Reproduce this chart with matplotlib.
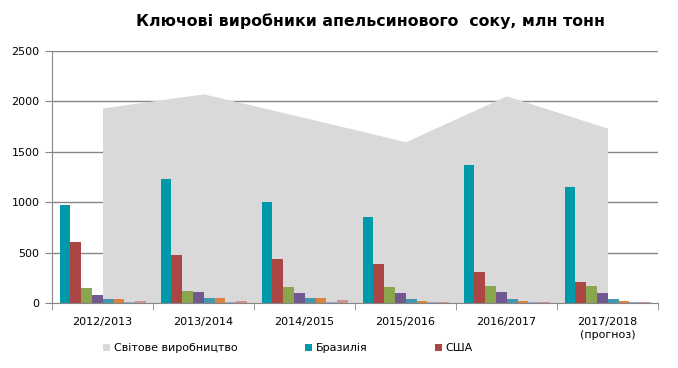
import numpy as np
import matplotlib
matplotlib.use("Agg")
import matplotlib.pyplot as plt
from matplotlib.patches import Patch

# дані
sezony = ["2012/2013", "2013/2014", "2014/2015", "2015/2016", "2016/2017", "2017/2018\n(прогноз)"]
svit = [1935, 2075, 1840, 1600, 2055, 1735]
brazyliya = [972, 1230, 1002, 853, 1369, 1151]
ssha = [605, 476, 437, 387, 308, 208]
seriya3 = [149, 119, 159, 159, 169, 169]
seriya4 = [79, 109, 99, 99, 109, 99]
seriya5 = [43, 50, 50, 40, 40, 40]
seriya6 = [43, 50, 50, 20, 20, 20]
seriya7 = [10, 10, 10, 10, 10, 10]
seriya8 = [23, 20, 30, 10, 10, 10]

bary = [brazyliya, ssha, seriya3, seriya4, seriya5, seriya6, seriya7, seriya8]
kolory = ["#0099AA", "#AA4643", "#89A54E", "#71588F", "#4198AF", "#DB843D", "#93A9CF", "#D19392"]

fig = plt.figure(figsize=(6.78, 3.68), dpi=100)
ax = fig.add_axes([52 / 678, 1 - 303 / 368, 606 / 678, 252 / 368])

x = np.arange(len(sezony))

# сітка під площею
for v in range(500, 2501, 500):
    ax.axhline(v, color="#868686", linewidth=1, zorder=0)

ax.fill_between(x, svit, 0, color="#D9D9D9", linewidth=0, zorder=1)

shyryna = 0.107
for i, (vals, c) in enumerate(zip(bary, kolory)):
    ax.bar(x - 0.425 + shyryna * (i + 0.5), vals, width=shyryna, color=c, zorder=2)

ax.set_xlim(-0.5, len(sezony) - 0.5)
ax.set_ylim(0, 2500)
ax.set_yticks(range(0, 2501, 500))
ax.set_xticks(x)
ax.set_xticklabels(sezony, fontsize=8, va="top", linespacing=1.45)
ax.set_xticks(np.arange(-0.5, len(sezony), 1), minor=True)
ax.tick_params(axis="x", which="major", length=0, pad=10)
ax.tick_params(axis="x", which="minor", length=5, color="#868686")
ax.tick_params(axis="y", length=5, color="#868686", labelsize=8, pad=4)

for s in ["top", "right"]:
    ax.spines[s].set_visible(False)
for s in ["left", "bottom"]:
    ax.spines[s].set_color("#868686")
    ax.spines[s].set_zorder(3)

fig.text(371 / 678, 1 - 21 / 368, "Ключові виробники апельсинового  соку, млн тонн",
         ha="center", va="center", fontsize=11.3, fontweight="bold")

legenda = [
    Patch(facecolor="#D9D9D9", label="Світове виробництво"),
    Patch(facecolor="#0099AA", label="Бразилія"),
    Patch(facecolor="#AA4643", label="США"),
]
fig.legend(handles=legenda, loc="center left", bbox_to_anchor=(103 / 678, 1 - 348 / 368), ncol=3,
           frameon=False, fontsize=8, handlelength=0.6, handleheight=0.6,
           handletextpad=0.35, columnspacing=6.1, borderpad=0, borderaxespad=0)

fig.savefig("out.png", dpi=100)
